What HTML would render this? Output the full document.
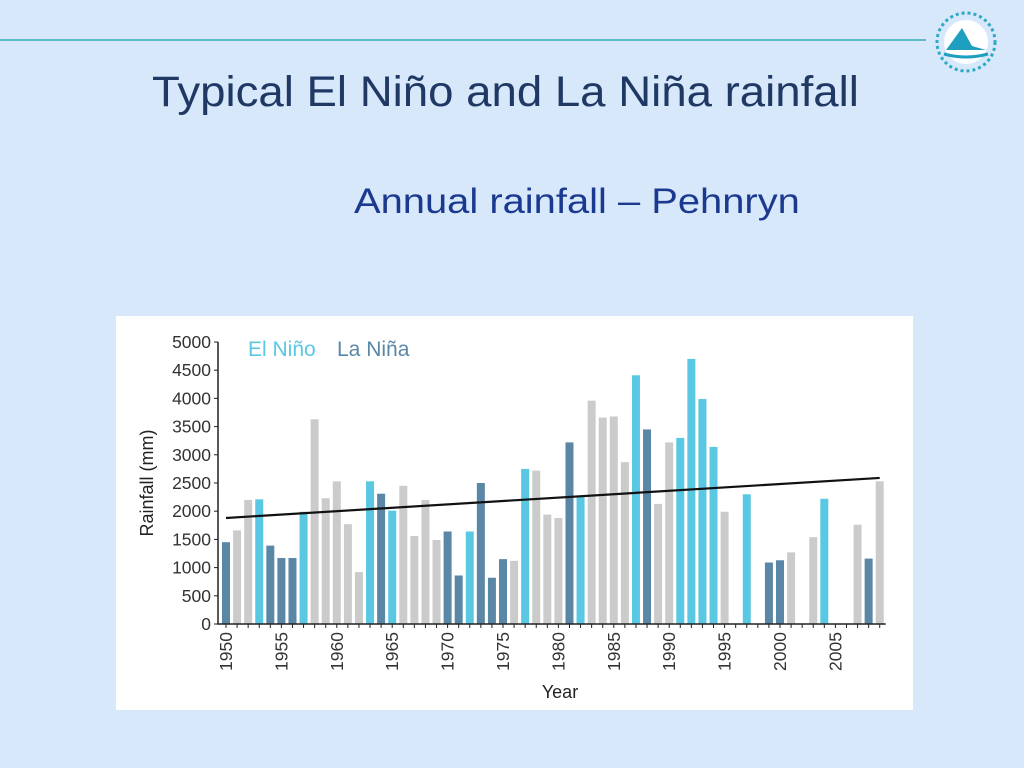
<!DOCTYPE html>
<html><head><meta charset="utf-8"><style>
body{margin:0;width:1024px;height:768px;background:#d7e8fb;position:relative;overflow:hidden;font-family:"Liberation Sans",sans-serif}
.t{position:absolute;white-space:nowrap;transform-origin:0 0}
</style></head><body>
<div style="position:absolute;left:0;top:39px;width:926px;height:2px;background:#5bbcc8"></div>
<svg style="position:absolute;left:932px;top:8px" width="68" height="68">
<circle cx="34" cy="34" r="29" fill="none" stroke="#2fa8c4" stroke-width="3" stroke-dasharray="3 3"/>
<circle cx="34" cy="34" r="22" fill="#fff"/>
<path d="M14 42 L30 20 L40 38 L54 42 Z" fill="#1e9fc0"/>
<path d="M12 46 Q34 52 56 46" stroke="#1e9fc0" stroke-width="3" fill="none"/>
</svg>
<div class="t" style="left:152px;top:68px;font-size:43px;color:#1f3864;transform:scaleX(1.06)">Typical El Niño and La Niña rainfall</div>
<div class="t" style="left:354px;top:182px;font-size:35px;color:#1b3a8f;transform:scaleX(1.14)">Annual rainfall – Pehnryn</div>
<svg id="chart" style="position:absolute;left:116px;top:316px" width="797" height="394"></svg>
<script>
const years=[];for(let y=1950;y<=2009;y++)years.push(y);
const rainfall=[1450,1660,2200,2210,1390,1170,1170,1990,3630,2230,2530,1770,920,2530,2310,2010,2450,1560,2200,1490,1640,860,1640,2500,820,1150,1120,2750,2720,1940,1880,3220,2270,3960,3660,3680,2870,4410,3450,2130,3220,3300,4700,3990,3140,1990,0,2300,0,1090,1130,1270,0,1540,2220,0,0,1760,1160,2530];
const phase=["L","N","N","E","L","L","L","E","N","N","N","N","N","E","L","E","N","N","N","N","L","L","E","L","L","L","N","E","N","N","N","L","E","N","N","N","N","E","L","N","N","E","E","E","E","N","N","E","N","L","L","N","N","N","E","N","N","N","L","N"];
const yTicks=[0,500,1000,1500,2000,2500,3000,3500,4000,4500,5000];
const xTickLabels=[1950,1955,1960,1965,1970,1975,1980,1985,1990,1995,2000,2005];
const trend=[1880,2590];
const ns="http://www.w3.org/2000/svg",svg=document.getElementById('chart');
const X0=110,Y0=308,yS=282/5000,xS=11.08;
const xp=y=>X0+(y-1950)*xS, yp=v=>Y0-v*yS;
const col={E:"#5ac8e2",L:"#5a87a6",N:"#cbcbcb"};
function mk(t,a,txt){const e=document.createElementNS(ns,t);for(const k in a)e.setAttribute(k,a[k]);if(txt!==undefined)e.textContent=txt;svg.appendChild(e);return e;}
const bg=mk('rect',{x:0,y:0,width:797,height:394,fill:'#fff'});


years.forEach((y,i)=>{if(!rainfall[i])return;
const r=mk('rect',{x:xp(y)-4,y:yp(rainfall[i]),width:8,height:rainfall[i]*yS,fill:col[phase[i]]});

});
const ax=mk('path',{d:`M${X0-8} ${yp(5000)} V${Y0} H${xp(2009)+6}`,stroke:'#222','stroke-width':1.5,fill:'none'});


yTicks.forEach(v=>{mk('line',{x1:X0-12,x2:X0-8,y1:yp(v),y2:yp(v),stroke:'#222'});
const t=mk('text',{x:X0-15,y:yp(v)+6,'text-anchor':'end','font-size':17.5,fill:'#333'},v);

});
years.forEach(y=>mk('line',{x1:xp(y),x2:xp(y),y1:Y0,y2:Y0+4,stroke:'#222'}));
xTickLabels.forEach(y=>{const t=mk('text',{transform:`translate(${xp(y)+6},${Y0+8}) rotate(-90)`,'text-anchor':'end','font-size':17.5,fill:'#333'},y);

});
const tl=mk('line',{x1:xp(1950),y1:yp(trend[0]),x2:xp(2009),y2:yp(trend[1]),stroke:'#111','stroke-width':2.2});


const yt=mk('text',{transform:`translate(37,${yp(2500)}) rotate(-90)`,'text-anchor':'middle','font-size':18,fill:'#222'},'Rainfall (mm)');


const xt=mk('text',{x:444,y:382,'text-anchor':'middle','font-size':18,fill:'#222'},'Year');


const l1=mk('text',{x:132,y:40,'font-size':21,fill:'#5ac8e2'},'El Niño');


const l2=mk('text',{x:221,y:40,'font-size':21,fill:'#5a87a6'},'La Niña');


</script>
</body></html>
